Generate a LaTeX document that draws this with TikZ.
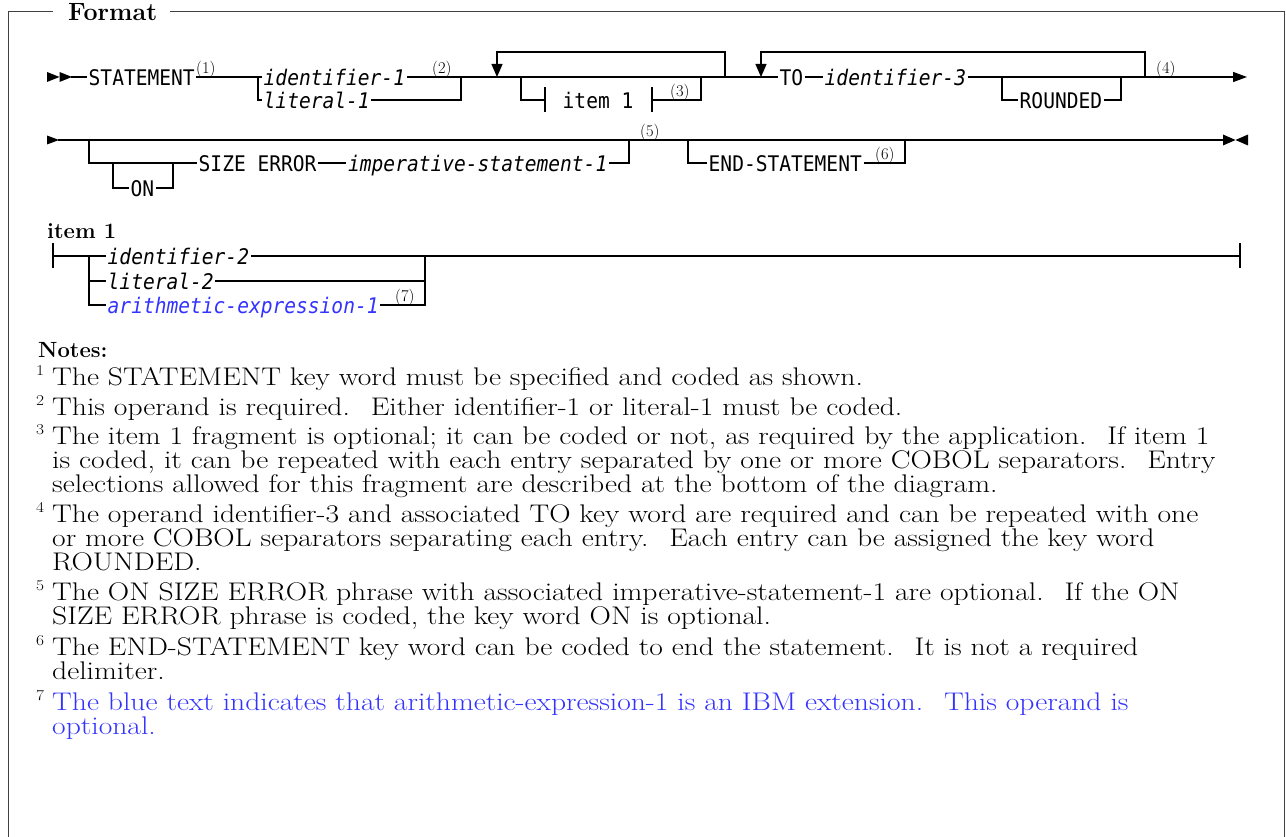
\documentclass[tikz,border=0pt]{standalone}
\usepackage{fontspec}
\usetikzlibrary{arrows.meta}
\newfontfamily\monofam{DejaVu Sans Mono}[FakeStretch=0.91]
\newfontfamily\notefam{Latin Modern Roman}[FakeStretch=1.16]
\definecolor{ibmblue}{RGB}{51,51,255}
\begin{document}
\begin{tikzpicture}[x=1pt,y=-1pt,
  rail/.style={line width=1.3pt},
  frm/.style={line width=1pt, black!75},
  kw/.style={font=\monofam\fontsize{21.5}{22}\selectfont, inner xsep=1.5pt, inner ysep=0pt, text height=17pt, text depth=0pt, anchor=west},
  var/.style={kw, font=\monofam\itshape\fontsize{21.5}{22}\selectfont},
  sup/.style={font=\fontsize{16.5}{16.5}\selectfont, inner sep=0pt, anchor=south west},
  tipdown/.style={-{Triangle[length=13pt,width=11pt]}},
  tipend/.style={-{Triangle[length=14pt,width=10pt]}},
  head/.style={font=\bfseries\fontsize{22}{22}\selectfont, inner sep=0pt, anchor=base west},
  note/.style={font=\notefam\fontsize{25.5}{25.5}\selectfont, inner sep=0pt, anchor=base west},
  nnum/.style={font=\notefam\fontsize{15}{15}\selectfont, inner sep=0pt, anchor=base west}
]
\useasboundingbox (0,0) rectangle (1286,837);

% ---- frame ----
\node[font=\bfseries\fontsize{25}{25}\selectfont, inner sep=0pt, anchor=base west] (fmt) at (68,21) {Format};
\coordinate (fl) at (53,12);
\coordinate (fr) at (170,12);
\draw[frm] (fl) -- (8,12) -- (8,837);
\draw[frm] (fr) -- (1284,12) -- (1284,837);

% ---- line 1 ----
\fill (47,72) -- (59.5,77) -- (47,82) -- cycle;
\fill (59.5,72) -- (72,77) -- (59.5,82) -- cycle;
\coordinate (s1) at (71,77);
\node[kw] (stmt) at (87,77) {STATEMENT};
\node[sup] (n1) at (196,77.5) {(1)};
\coordinate (j1) at (258,77);
\node[var] (id1) at (262,77) {identifier-1};
\node[var] (lit1) at (262,100) {literal-1};
\node[sup] (n2) at (432,77.5) {(2)};
\coordinate (j2) at (461,77);
\coordinate (l1l) at (497,77);
\coordinate (l1r) at (725,77);
\coordinate (j3) at (521,77);
\coordinate (t1) at (545,100);
\node[kw] (it1) at (561,100) {item 1};
\coordinate (t2) at (652,100);
\node[sup] (n3) at (670,100.5) {(3)};
\coordinate (j4) at (701,77);
\coordinate (l2l) at (761,77);
\coordinate (l2r) at (1145,77);
\node[kw] (to) at (778,77) {TO};
\node[var] (id3) at (823,77) {identifier-3};
\coordinate (j5) at (1002,77);
\node[kw] (rnd) at (1018,100) {ROUNDED};
\coordinate (j6) at (1121,77);
\node[sup] (n4) at (1156,77.5) {(4)};
\coordinate (e1) at (1247,77);

\draw[rail] (s1) -- (stmt.west);
\draw[rail] (stmt.east) -- (id1.west);
\draw[rail] (j1) |- (lit1.west);
\draw[rail] (id1.east) -- (to.west);
\draw[rail] (lit1.east) -| (j2);
\draw[rail,tipdown] (l1r) -- ++(0,-25) -| (l1l);
\draw[rail] (j3) |- (t1);
\draw[rail] (t1) ++(0,-12.5) -- ++(0,25);
\draw[rail] (t2) ++(0,-12.5) -- ++(0,25);
\draw[rail] (t2) -| (j4);
\draw[rail,tipdown] (l2r) -- ++(0,-25) -| (l2l);
\draw[rail] (to.east) -- (id3.west);
\draw[rail,tipend] (id3.east) -- (e1);
\draw[rail] (j5) |- (rnd.west);
\draw[rail] (rnd.east) -| (j6);

% ---- line 2 ----
\fill (47,135.5) -- (59,140) -- (47,144.5) -- cycle;
\coordinate (s2) at (58,140);
\coordinate (e2) at (1223,140);
\fill (1223,134.5) -- (1235.5,140) -- (1223,145.5) -- cycle;
\fill (1248,134.5) -- (1235.5,140) -- (1248,145.5) -- cycle;
\coordinate (k1) at (89,140);
\coordinate (k2) at (113,163);
\node[kw] (on) at (129,188) {ON};
\coordinate (k2e) at (173,163);
\node[kw] (size) at (197,163) {SIZE ERROR};
\node[var,anchor=east] (imp) at (609,163) {imperative-statement-1};
\coordinate (k3) at (629,140);
\node[sup] (n5) at (640,140.5) {(5)};
\coordinate (k4) at (688,140);
\node[kw] (endst) at (707,163) {END-STATEMENT};
\node[sup] (n6) at (875,163.5) {(6)};
\coordinate (k5) at (905,140);

\draw[rail] (s2) -- (e2);
\draw[rail] (k1) |- (size.west);
\draw[rail] (k2) |- (on.west);
\draw[rail] (on.east) -| (k2e);
\draw[rail] (size.east) -- (imp.west);
\draw[rail] (imp.east) -| (k3);
\draw[rail] (k4) |- (endst.west);
\draw[rail] (endst.east) -| (k5);

% ---- item 1 fragment ----
\node[head] (ihead) at (47,239) {item 1};
\coordinate (i0) at (53,256);
\coordinate (i1) at (89,256);
\node[var] (id2) at (106,256) {identifier-2};
\node[var] (lit2) at (106,281) {literal-2};
\node[var, text=ibmblue] (ari) at (106,305) {arithmetic-expression-1};
\node[sup] (n7) at (395,305.5) {(7)};
\coordinate (i2) at (425,256);
\coordinate (iend) at (1240,256);

\draw[rail] (i0) ++(0,-12.5) -- ++(0,25);
\draw[rail] (iend) ++(0,-12.5) -- ++(0,25);
\draw[rail] (i0) -- (id2.west);
\draw[rail] (id2.east) -- (iend);
\draw[rail] (i1) |- (lit2.west);
\draw[rail] (i1) |- (ari.west);
\draw[rail] (lit2.east) -| (i2);
\draw[rail] (ari.east) -| (i2);

% ---- notes ----
\node[head] (nhead) at (38,357) {Notes:};

\node[nnum] (m1) at (36,375) {1};
\node[note] (t1a) at (52,385) {The STATEMENT key word must be specified and coded as shown.};
\node[nnum] (m2) at (36,405) {2};
\node[note] (t2a) at (52,415) {This operand is required.~ Either identifier-1 or literal-1 must be coded.};
\node[nnum] (m3) at (36,434) {3};
\node[note] (t3a) at (52,444) {The item 1 fragment is optional; it can be coded or not, as required by the application.~ If item 1};
\node[note] (t3b) at (52,468) {is coded, it can be repeated with each entry separated by one or more COBOL separators.~ Entry};
\node[note] (t3c) at (52,492) {selections allowed for this fragment are described at the bottom of the diagram.};
\node[nnum] (m4) at (36,512) {4};
\node[note] (t4a) at (52,522) {The operand identifier-3 and associated TO key word are required and can be repeated with one};
\node[note] (t4b) at (52,546) {or more COBOL separators separating each entry.~ Each entry can be assigned the key word};
\node[note] (t4c) at (52,570) {ROUNDED.};
\node[nnum] (m5) at (36,590) {5};
\node[note] (t5a) at (52,600) {The ON SIZE ERROR phrase with associated imperative-statement-1 are optional.~ If the ON};
\node[note] (t5b) at (52,624) {SIZE ERROR phrase is coded, the key word ON is optional.};
\node[nnum] (m6) at (36,645) {6};
\node[note] (t6a) at (52,655) {The END-STATEMENT key word can be coded to end the statement.~ It is not a required};
\node[note] (t6b) at (52,679) {delimiter.};
\node[nnum] (m7) at (36,700) {7};
\node[note, text=ibmblue] (t7a) at (52,710) {The blue text indicates that arithmetic-expression-1 is an IBM extension.~ This operand is};
\node[note, text=ibmblue] (t7b) at (52,734) {optional.};
\end{tikzpicture}
\end{document}
